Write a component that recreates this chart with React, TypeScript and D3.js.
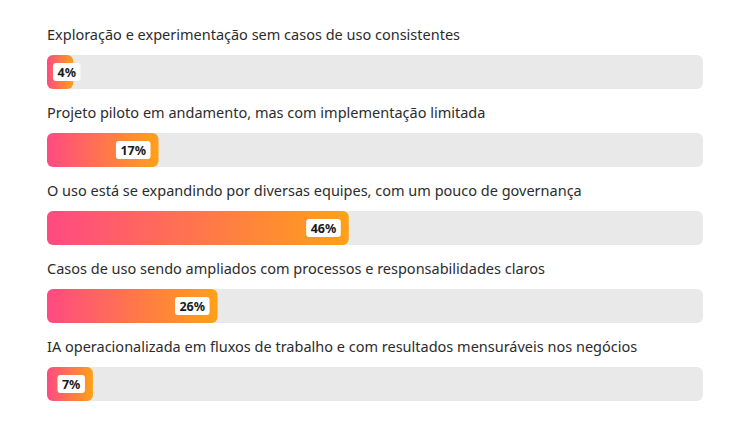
import { useEffect, useRef } from "react";
import * as d3 from "d3";

const categories = [
  "Exploração e experimentação sem casos de uso consistentes",
  "Projeto piloto em andamento, mas com implementação limitada",
  "O uso está se expandindo por diversas equipes, com um pouco de governança",
  "Casos de uso sendo ampliados com processos e responsabilidades claros",
  "IA operacionalizada em fluxos de trabalho e com resultados mensuráveis nos negócios",
];
const values = [4, 17, 46, 26, 7];

export default function App() {
  const svgRef = useRef<SVGSVGElement>(null);

  useEffect(() => {
    if (!svgRef.current) return;
    const width = 750;
    const height = 422;
    const svg = d3.select(svgRef.current);
    svg.selectAll("*").remove();
    svg.attr("viewBox", `0 0 ${width} ${height}`);

    const x = d3.scaleLinear().domain([0, 100]).range([47, 703]);
    const y = d3.scaleBand<number>()
      .domain(d3.range(categories.length))
      .range([17, 407])
      .paddingInner(0);
    const barH = 34;
    const barOff = 38;

    // one gradient per bar, pink at the start, orange at the bar's end
    const defs = svg.append("defs");
    values.forEach((v, i) => {
      const g = defs.append("linearGradient")
        .attr("id", `grad-${i}`)
        .attr("gradientUnits", "userSpaceOnUse")
        .attr("x1", x(0))
        .attr("x2", x(v))
        .attr("y1", 0)
        .attr("y2", 0);
      g.append("stop").attr("offset", "0%").attr("stop-color", "#ff4a82");
      g.append("stop").attr("offset", "100%").attr("stop-color", "#ffa117");
    });

    const rows = svg.selectAll("g.row")
      .data(values)
      .join("g")
      .attr("class", "row")
      .attr("transform", (_, i) => `translate(0,${y(i)})`);

    // Category labels
    rows.append("text")
      .attr("x", x(0))
      .attr("y", 23)
      .attr("fill", "#2c2c2c")
      .attr("font-family", "'Noto Sans', sans-serif")
      .attr("font-size", "14.5px")
      .text((_, i) => categories[i]);

    // Track
    rows.append("rect")
      .attr("x", x(0))
      .attr("y", barOff)
      .attr("width", x(100) - x(0))
      .attr("height", barH)
      .attr("rx", 6)
      .attr("fill", "#e9e9e9");

    // Value bar
    rows.append("rect")
      .attr("x", x(0))
      .attr("y", barOff)
      .attr("width", d => x(d) - x(0))
      .attr("height", barH)
      .attr("rx", 6)
      .attr("fill", (_, i) => `url(#grad-${i})`);

    // Value badge
    rows.each(function (d) {
      const row = d3.select(this);
      const badge = row.append("g");
      const txt = badge.append("text")
        .attr("font-family", "'Noto Sans', sans-serif")
        .attr("font-size", "12.5px")
        .attr("font-weight", "700")
        .attr("fill", "#1a1a1a")
        .attr("text-anchor", "middle")
        .attr("dominant-baseline", "central")
        .text(`${d}%`);
      const tw = (txt.node() as SVGTextElement).getComputedTextLength();
      const bw = tw + 9;
      const bh = 18;
      const right = Math.max(x(d) - 8, x(0) + 6 + bw);
      const left = right - bw;
      badge.insert("rect", "text")
        .attr("x", left)
        .attr("y", barOff + barH / 2 - bh / 2)
        .attr("width", bw)
        .attr("height", bh)
        .attr("rx", 3)
        .attr("fill", "#ffffff");
      txt.attr("x", left + bw / 2).attr("y", barOff + barH / 2 + 0.5);
    });
  }, []);

  return (
    <div style={{ position: "fixed", left: 0, top: 0, width: 750, height: 422, background: "#fff" }}>
      <svg ref={svgRef} width={750} height={422} style={{ display: "block" }} />
    </div>
  );
}
